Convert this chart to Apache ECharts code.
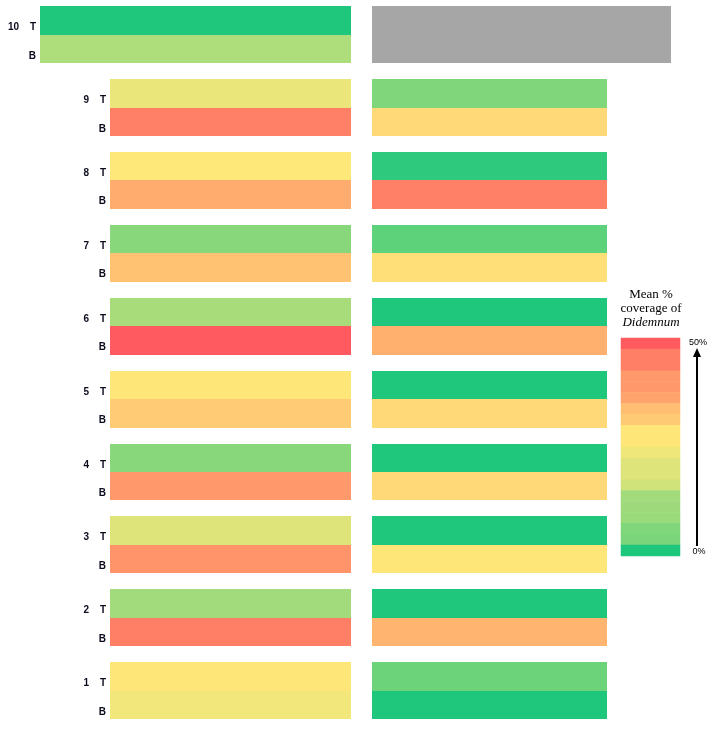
<!DOCTYPE html>
<html>
<head>
<meta charset="utf-8">
<script src="https://cdn.jsdelivr.net/npm/echarts@6/dist/echarts.min.js"></script>
<style>
html,body{margin:0;padding:0;background:#fff;}
#chart{width:713px;height:731px;}
</style>
</head>
<body>
<div id="chart"></div>
<script>
// ---- data (mean % coverage of Didemnum), groups 1..10 ----
const groupNames = ['1','2','3','4','5','6','7','8','9','10'];
const rowNames = ['T','B'];
const leftTop     = [25.6, 14.7, 21.3, 11.8, 25.6, 15.3, 11.8, 25.2, 22.7, 0];
const leftBottom  = [23.6, 43.5, 39.9, 39.0, 30.0, 50.0, 31.8, 35.7, 43.4, 16.0];
const rightTop    = [8.7, 0, 0, 0, 0, 0, 7.1, 1.8, 10.9, null];
const rightBottom = [0, 34.3, 25.5, 27.8, 27.8, 35.0, 26.6, 43.4, 27.8, null];
// legend colour steps, top (50%) to bottom (0%)
const legendSteps = [50, 43.5, 43.5, 39, 39, 37, 32.5, 30.5, 25.5, 25.5, 23.3, 21.3, 21.3, 19.8, 14.7, 14.2, 13.8, 10.8, 10.3, 0];
const legendTicks = ['50%', '0%'];
const legendTitle = ['Mean %', 'coverage of', 'Didemnum'];

// ---- layout ----
const H = 0.39;            // half-group cell height in group units
const leftNormalStart = 0.2251;
const rightNormalEnd = 0.786;
const wideIndex = groupNames.length - 1;

function buildData(topArr, botArr, keepNull) {
  const out = [];
  groupNames.forEach((g, i) => {
    [topArr, botArr].forEach((arr, r) => {
      const v = arr[i];
      if ((v === null) === keepNull) out.push([i + 1, r, keepNull ? 0 : v]);
    });
  });
  return out;
}

function makeRender(panel, fixedColor) {
  return function (params, api) {
    const gi = api.value(0), row = api.value(1);
    const wide = (gi - 1) === wideIndex;
    const x0 = panel === 'L' ? (wide ? 0 : leftNormalStart) : 0;
    const x1 = panel === 'L' ? 1 : (wide ? 1 : rightNormalEnd);
    const yTop = row === 0 ? gi + H : gi;
    const yBot = row === 0 ? gi : gi - H;
    const p0 = api.coord([x0, yTop]);
    const p1 = api.coord([x1, yBot]);
    const rx = Math.round(p0[0]), ry = Math.round(p0[1]);
    const rw = Math.round(p1[0]) - rx, rh = Math.round(p1[1]) - ry;
    const children = [{
      type: 'rect',
      shape: {x: rx, y: ry, width: rw, height: rh},
      style: {fill: fixedColor || api.visual('color')}
    }];
    if (panel === 'L') {
      const cy = (p0[1] + p1[1]) / 2 + 7;
      const font = 'bold 10px "Liberation Sans", Arial, sans-serif';
      children.push({type: 'text', style: {text: rowNames[row], x: rx - 4, y: cy, align: 'right', verticalAlign: 'middle', font: font, fill: '#0b0b1e'}});
      if (row === 0) {
        children.push({type: 'text', style: {text: groupNames[gi - 1], x: rx - 21, y: cy, align: 'right', verticalAlign: 'middle', font: font, fill: '#0b0b1e'}});
      }
    }
    return {type: 'group', children: children};
  };
}

const yMin = 0.5, yMax = 10.45;
const chart = echarts.init(document.getElementById('chart'), null, {renderer: 'canvas'});
const hiddenAxis = {show: false};
const serif = '"Liberation Serif", "Times New Roman", serif';
chart.setOption({
  animation: false,
  backgroundColor: '#fff',
  grid: [
    {left: 40, top: 1.9, width: 311, height: 725.2},
    {left: 372, top: 1.9, width: 299, height: 725.2},
    {left: 621, top: 338, width: 59, height: 218}
  ],
  xAxis: [
    {type: 'value', gridIndex: 0, min: 0, max: 1, ...hiddenAxis},
    {type: 'value', gridIndex: 1, min: 0, max: 1, ...hiddenAxis},
    {type: 'category', gridIndex: 2, data: [''], ...hiddenAxis}
  ],
  yAxis: [
    {type: 'value', gridIndex: 0, min: yMin, max: yMax, ...hiddenAxis},
    {type: 'value', gridIndex: 1, min: yMin, max: yMax, ...hiddenAxis},
    {type: 'category', gridIndex: 2, inverse: true, data: legendSteps.map((_, i) => String(i)), ...hiddenAxis}
  ],
  visualMap: {
    type: 'continuous', show: false, min: 0, max: 50, dimension: 2,
    seriesIndex: [0, 1, 3],
    inRange: {color: ['#1EC77C', '#FFE97A', '#FF5A5F']}
  },
  series: [
    {type: 'custom', xAxisIndex: 0, yAxisIndex: 0, data: buildData(leftTop, leftBottom, false), renderItem: makeRender('L'), silent: true},
    {type: 'custom', xAxisIndex: 1, yAxisIndex: 1, data: buildData(rightTop, rightBottom, false), renderItem: makeRender('R'), silent: true},
    {type: 'custom', xAxisIndex: 1, yAxisIndex: 1, data: buildData(rightTop, rightBottom, true), renderItem: makeRender('R', '#A6A6A6'), silent: true},
    {type: 'heatmap', xAxisIndex: 2, yAxisIndex: 2, data: legendSteps.map((v, i) => [0, i, v]), itemStyle: {borderWidth: 0}, silent: true}
  ],
  graphic: [
    {type: 'group', children: [
      {type: 'text', style: {text: legendTitle[0], x: 651, y: 295, align: 'center', verticalAlign: 'middle', font: '13px ' + serif, fill: '#000'}},
      {type: 'text', style: {text: legendTitle[1], x: 651, y: 309, align: 'center', verticalAlign: 'middle', font: '13px ' + serif, fill: '#000'}},
      {type: 'text', style: {text: legendTitle[2], x: 651, y: 323, align: 'center', verticalAlign: 'middle', font: 'italic 13px ' + serif, fill: '#000'}},
      {type: 'line', shape: {x1: 697, y1: 546, x2: 697, y2: 355}, style: {stroke: '#000', lineWidth: 2}},
      {type: 'polygon', shape: {points: [[693, 357], [701, 357], [697, 348]]}, style: {fill: '#000'}},
      {type: 'text', style: {text: legendTicks[0], x: 698, y: 343, align: 'center', verticalAlign: 'middle', font: '9px "Liberation Sans", Arial, sans-serif', fill: '#000'}},
      {type: 'text', style: {text: legendTicks[1], x: 699, y: 552, align: 'center', verticalAlign: 'middle', font: '9px "Liberation Sans", Arial, sans-serif', fill: '#000'}}
    ]}
  ]
});
</script>
</body>
</html>
